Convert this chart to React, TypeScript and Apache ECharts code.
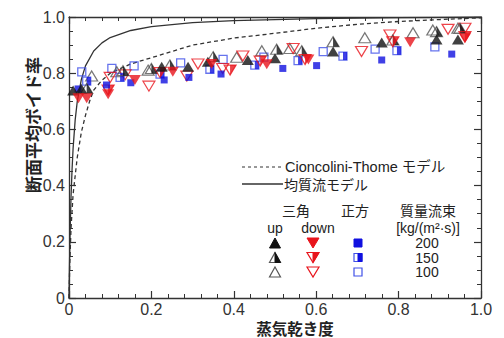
import React, { useEffect, useRef } from "react";
import * as echarts from "echarts";

// Homogeneous model curve (solid) [quality, void fraction]
const homogeneousCurve: [number, number][] = [
  [0, 0], [0.001, 0.102], [0.002, 0.185], [0.003, 0.254], [0.005, 0.363], [0.0075, 0.46],
  [0.01, 0.534], [0.015, 0.634], [0.02, 0.699], [0.03, 0.778], [0.04, 0.826],
  [0.06, 0.879], [0.08, 0.908], [0.1, 0.927], [0.15, 0.952], [0.2, 0.966],
  [0.3, 0.98], [0.4, 0.987], [0.5, 0.991], [0.6, 0.994], [0.7, 0.996],
  [0.8, 0.998], [0.9, 0.999], [1.0, 1.0],
];

// Cioncolini-Thome model curve (dashed)
const cioncoliniCurve: [number, number][] = [
  [0, 0], [0.002, 0.13], [0.005, 0.25], [0.01, 0.37], [0.02, 0.5], [0.03, 0.59],
  [0.04, 0.65], [0.05, 0.7], [0.06, 0.74], [0.08, 0.775], [0.1, 0.8],
  [0.15, 0.833], [0.2, 0.855], [0.3, 0.9], [0.4, 0.925], [0.5, 0.942],
  [0.6, 0.96], [0.7, 0.974], [0.8, 0.984], [0.9, 0.991], [1.0, 0.997],
];

// 三角 up (black)
const up200: [number, number][] = [
  [0.01, 0.738], [0.03, 0.745], [0.225, 0.823], [0.289, 0.823], [0.337, 0.841],
  [0.434, 0.847], [0.5, 0.853], [0.641, 0.877], [0.759, 0.909], [0.892, 0.92], [0.944, 0.92],
];
const up150: [number, number][] = [
  [0.043, 0.746], [0.131, 0.809], [0.2, 0.817], [0.245, 0.829], [0.35, 0.859],
  [0.504, 0.885], [0.565, 0.88], [0.641, 0.912], [0.786, 0.918], [0.892, 0.948], [0.949, 0.96],
];
const up100: [number, number][] = [
  [0.055, 0.79], [0.116, 0.805], [0.192, 0.811], [0.407, 0.857], [0.468, 0.88],
  [0.536, 0.888], [0.718, 0.926], [0.835, 0.944], [0.883, 0.954], [0.944, 0.96],
];

// 三角 down (red)
const down200: [number, number][] = [
  [0.023, 0.711], [0.043, 0.711], [0.095, 0.725], [0.16, 0.776], [0.252, 0.805],
  [0.346, 0.833], [0.48, 0.832], [0.581, 0.849], [0.828, 0.91], [0.961, 0.924],
];
const down150: [number, number][] = [
  [0.095, 0.74], [0.221, 0.802], [0.391, 0.811], [0.464, 0.843], [0.573, 0.849],
  [0.786, 0.912], [0.961, 0.93],
];
const down100: [number, number][] = [
  [0.1, 0.785], [0.136, 0.794], [0.194, 0.754], [0.286, 0.79], [0.313, 0.833],
  [0.373, 0.817], [0.422, 0.861], [0.544, 0.888], [0.71, 0.877], [0.779, 0.936],
  [0.92, 0.956], [0.961, 0.96],
];

// 正方 (blue squares)
const sq200: [number, number][] = [
  [0.022, 0.744], [0.091, 0.758], [0.15, 0.766], [0.231, 0.776], [0.291, 0.785],
  [0.369, 0.797], [0.519, 0.817], [0.601, 0.827], [0.759, 0.847], [0.929, 0.868],
];
const sq150: [number, number][] = [
  [0.043, 0.772], [0.124, 0.785], [0.221, 0.797], [0.342, 0.814], [0.451, 0.829],
  [0.556, 0.845], [0.665, 0.861], [0.796, 0.88],
];
const sq100: [number, number][] = [
  [0.031, 0.805], [0.104, 0.817], [0.158, 0.826], [0.271, 0.837], [0.374, 0.849],
  [0.473, 0.857], [0.617, 0.877], [0.743, 0.886], [0.888, 0.894],
];

const xTicks = [0, 0.2, 0.4, 0.6, 0.8, 1.0];
const yTicks = [0, 0.2, 0.4, 0.6, 0.8, 1.0];
const fluxLabels = ["200", "150", "100"];

const FONT = "'Liberation Sans', Arial, 'Noto Sans CJK JP', sans-serif";
const JFONT = "'Noto Sans CJK JP', 'Liberation Sans', sans-serif";
const BLACK = "#111111";
const GRAY = "#555555";
const RED = "#e8141c";
const BLUE = "#1010e0";
const LBLUE = "#4050e8";

const UP = "path://M5,0L10,10L0,10Z";
const DOWN = "path://M0,0L10,0L5,10Z";
const UP_RHALF = "path://M0,0L0,10L5,10Z";
const DOWN_RHALF = "path://M0,0L5,0L0,10Z";
const TRI: [number, number] = [12, 10];
const SQ = 8;

function scatter(data: [number, number][], symbol: string, size: any, item: any, offset?: [number, number]) {
  return {
    type: "scatter",
    data,
    symbol,
    symbolSize: size,
    symbolOffset: offset || [0, 0],
    itemStyle: item,
    z: 3,
    silent: true,
  };
}

function tri(cx: number, cy: number, w: number, h: number, up: boolean) {
  return up
    ? [[cx, cy - h / 2], [cx + w / 2, cy + h / 2], [cx - w / 2, cy + h / 2]]
    : [[cx - w / 2, cy - h / 2], [cx + w / 2, cy - h / 2], [cx, cy + h / 2]];
}
function triRight(cx: number, cy: number, w: number, h: number, up: boolean) {
  return up
    ? [[cx, cy - h / 2], [cx + w / 2, cy + h / 2], [cx, cy + h / 2]]
    : [[cx, cy - h / 2], [cx + w / 2, cy - h / 2], [cx, cy + h / 2]];
}

export default function App() {
  const ref = useRef<HTMLDivElement>(null);
  useEffect(() => {
    if (!ref.current) return;
    const chart = echarts.init(ref.current, undefined, { renderer: "svg" });

    const axisCommon = {
      type: "value",
      min: 0,
      max: 1,
      interval: 0.2,
      axisLine: { show: true, onZero: false, lineStyle: { color: "#333", width: 1.3 } },
      axisTick: { show: true, inside: true, length: 7, lineStyle: { color: "#333", width: 1.2 } },
      minorTick: { show: true, length: 4, lineStyle: { color: "#333", width: 1 } },
      splitLine: { show: false },
      minorSplitLine: { show: false },
    };
    const labelFmt = (v: number) => (v === 0 ? "0" : v.toFixed(1));

    const LF = 14;
    const rows = [243, 257.5, 272];
    const upX = 275, downX = 313, sqX = 358, numX = 427;
    const legendGraphics: any[] = [
      { type: "line", shape: { x1: 242, y1: 167, x2: 284, y2: 167 }, style: { stroke: "#333", lineWidth: 1.2, lineDash: [3, 3] } },
      { type: "text", x: 285, y: 167, style: { text: "Cioncolini-Thome モデル", font: `14.5px ${FONT}`, fill: "#222", textVerticalAlign: "middle" } },
      { type: "line", shape: { x1: 242, y1: 184, x2: 283, y2: 184 }, style: { stroke: "#333", lineWidth: 1.3 } },
      { type: "text", x: 284, y: 184, style: { text: "均質流モデル", font: `14px ${JFONT}`, fill: "#222", textVerticalAlign: "middle" } },
      { type: "text", x: 296, y: 210, style: { text: "三角", font: `${LF}px ${JFONT}`, fill: "#222", textAlign: "center", textVerticalAlign: "middle" } },
      { type: "text", x: 355, y: 210, style: { text: "正方", font: `${LF}px ${JFONT}`, fill: "#222", textAlign: "center", textVerticalAlign: "middle" } },
      { type: "text", x: 428, y: 210, style: { text: "質量流束", font: `${LF}px ${JFONT}`, fill: "#222", textAlign: "center", textVerticalAlign: "middle" } },
      { type: "text", x: 275, y: 228, style: { text: "up", font: `${LF}px ${FONT}`, fill: "#222", textAlign: "center", textVerticalAlign: "middle" } },
      { type: "text", x: 318, y: 228, style: { text: "down", font: `${LF}px ${FONT}`, fill: "#222", textAlign: "center", textVerticalAlign: "middle" } },
      { type: "text", x: 428, y: 228, style: { text: "[kg/(m²·s)]", font: `${LF}px ${FONT}`, fill: "#222", textAlign: "center", textVerticalAlign: "middle" } },
    ];
    rows.forEach((ry, i) => {
      legendGraphics.push({ type: "text", x: numX, y: ry, style: { text: fluxLabels[i], font: `${LF}px ${FONT}`, fill: "#222", textAlign: "center", textVerticalAlign: "middle" } });
      if (i === 0) {
        legendGraphics.push({ type: "polygon", shape: { points: tri(upX, ry, 11, 10, true) }, style: { fill: BLACK, stroke: BLACK, lineWidth: 1 } });
        legendGraphics.push({ type: "polygon", shape: { points: tri(downX, ry, 12, 10, false) }, style: { fill: RED, stroke: RED, lineWidth: 1 } });
        legendGraphics.push({ type: "rect", shape: { x: sqX - 4, y: ry - 4, width: 8, height: 8 }, style: { fill: BLUE, stroke: BLUE, lineWidth: 1 } });
      } else if (i === 1) {
        legendGraphics.push({ type: "polygon", shape: { points: tri(upX, ry, 11, 10, true) }, style: { fill: "none", stroke: GRAY, lineWidth: 1.2 } });
        legendGraphics.push({ type: "polygon", shape: { points: triRight(upX, ry, 11, 10, true) }, style: { fill: BLACK, stroke: BLACK, lineWidth: 1 } });
        legendGraphics.push({ type: "polygon", shape: { points: tri(downX, ry, 12, 10, false) }, style: { fill: "none", stroke: RED, lineWidth: 1.2 } });
        legendGraphics.push({ type: "polygon", shape: { points: triRight(downX, ry, 12, 10, false) }, style: { fill: RED, stroke: RED, lineWidth: 1 } });
        legendGraphics.push({ type: "rect", shape: { x: sqX - 4, y: ry - 4, width: 8, height: 8 }, style: { fill: "none", stroke: LBLUE, lineWidth: 1.2 } });
        legendGraphics.push({ type: "rect", shape: { x: sqX, y: ry - 4, width: 4, height: 8 }, style: { fill: BLUE, stroke: BLUE, lineWidth: 1 } });
      } else {
        legendGraphics.push({ type: "polygon", shape: { points: tri(upX, ry, 11, 10, true) }, style: { fill: "none", stroke: GRAY, lineWidth: 1.2 } });
        legendGraphics.push({ type: "polygon", shape: { points: tri(downX, ry, 12, 10, false) }, style: { fill: "none", stroke: RED, lineWidth: 1.2 } });
        legendGraphics.push({ type: "rect", shape: { x: sqX - 4, y: ry - 4, width: 8, height: 8 }, style: { fill: "none", stroke: LBLUE, lineWidth: 1.2 } });
      }
    });

    const option: any = {
      animation: false,
      backgroundColor: "#ffffff",
      grid: { left: 69, right: 23, top: 17, bottom: 40 },
      xAxis: [
        {
          ...axisCommon,
          position: "bottom",
          minorTick: { ...axisCommon.minorTick, splitNumber: 5 },
          axisLabel: { show: true, formatter: labelFmt, fontSize: 16, color: "#333", fontFamily: FONT, margin: 3, customValues: xTicks },
        },
        {
          ...axisCommon,
          position: "top",
          minorTick: { ...axisCommon.minorTick, splitNumber: 5 },
          axisLabel: { show: false },
        },
      ],
      yAxis: [
        {
          ...axisCommon,
          position: "left",
          minorTick: { ...axisCommon.minorTick, splitNumber: 4 },
          axisLabel: { show: true, formatter: labelFmt, fontSize: 16, color: "#333", fontFamily: FONT, margin: 4, customValues: yTicks },
        },
        {
          ...axisCommon,
          position: "right",
          minorTick: { ...axisCommon.minorTick, splitNumber: 4 },
          axisLabel: { show: false },
        },
      ],
      series: [
        { type: "line", data: cioncoliniCurve, showSymbol: false, symbol: "none", lineStyle: { color: "#333", width: 1.3, type: [4, 3] }, z: 2, silent: true },
        { type: "line", data: homogeneousCurve, showSymbol: false, symbol: "none", lineStyle: { color: "#333", width: 1.3 }, z: 2, silent: true },
        // 100 (open)
        scatter(sq100, "rect", SQ, { color: "rgba(0,0,0,0)", borderColor: LBLUE, borderWidth: 1.3 }),
        scatter(up100, UP, TRI, { color: "rgba(0,0,0,0)", borderColor: GRAY, borderWidth: 1.2 }),
        scatter(down100, DOWN, TRI, { color: "rgba(0,0,0,0)", borderColor: RED, borderWidth: 1.2 }),
        // 150 (half)
        scatter(sq150, "rect", SQ, { color: "rgba(0,0,0,0)", borderColor: LBLUE, borderWidth: 1.3 }),
        scatter(sq150, "rect", [SQ / 2, SQ], { color: BLUE }, [SQ / 4, 0]),
        scatter(up150, UP, TRI, { color: "rgba(0,0,0,0)", borderColor: GRAY, borderWidth: 1.2 }),
        scatter(up150, UP_RHALF, [TRI[0] / 2, TRI[1]], { color: BLACK }, [TRI[0] / 4, 0]),
        scatter(down150, DOWN, TRI, { color: "rgba(0,0,0,0)", borderColor: RED, borderWidth: 1.2 }),
        scatter(down150, DOWN_RHALF, [TRI[0] / 2, TRI[1]], { color: RED }, [TRI[0] / 4, 0]),
        // 200 (filled)
        scatter(sq200, "rect", SQ - 1, { color: BLUE }),
        scatter(up200, UP, TRI, { color: BLACK }),
        scatter(down200, DOWN, TRI, { color: RED }),
      ],
      graphic: [
        { type: "text", x: 295, y: 328, style: { text: "蒸気乾き度", font: `bold 15.5px ${JFONT}`, fill: "#222", textAlign: "center", textVerticalAlign: "middle" } },
        { type: "text", x: 32, y: 125, rotation: Math.PI / 2, style: { text: "断面平均ボイド率", font: `bold 17px ${JFONT}`, fill: "#222", textAlign: "center", textVerticalAlign: "middle" } },
        ...legendGraphics,
      ],
    };
    chart.setOption(option);
    return () => chart.dispose();
  }, []);
  return <div ref={ref} style={{ position: "fixed", left: 0, top: 0, width: 504, height: 338 }} />;
}
